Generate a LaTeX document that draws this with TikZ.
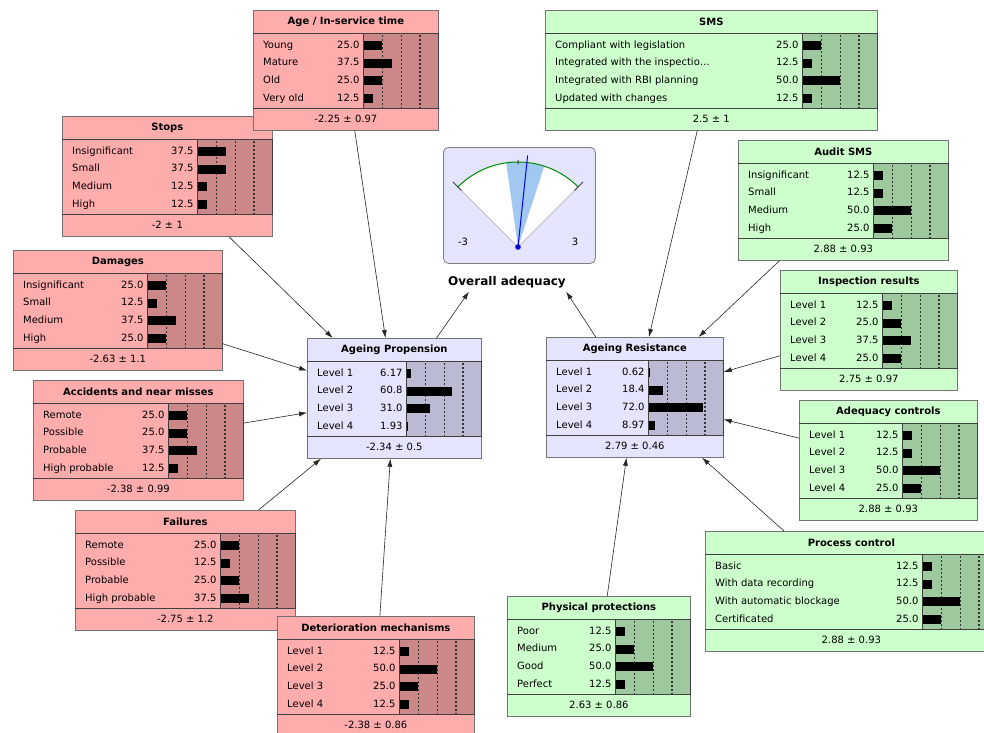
\documentclass[tikz,border=0pt]{standalone}
\usepackage{fontspec}
\setmainfont{DejaVu Sans}
\usetikzlibrary{arrows.meta,fit}

\definecolor{redmain}{RGB}{255,172,172}
\definecolor{redbar}{RGB}{204,136,136}
\definecolor{greenmain}{RGB}{204,255,204}
\definecolor{greenbar}{RGB}{158,200,158}
\definecolor{bluemain}{RGB}{228,228,252}
\definecolor{bluebar}{RGB}{186,186,210}
\definecolor{gaugeblue}{RGB}{160,200,240}

\tikzset{
  bnbox/.style={rectangle,draw=black!55,line width=0.7pt,inner sep=0pt,minimum height=120pt},
  bnline/.style={draw=black!75,line width=0.7pt},
  bndots/.style={draw=black!80,line width=1.2pt,dash pattern=on 1.5pt off 2.5pt},
  bntitle/.style={font=\bfseries,inner sep=1pt},
  bntext/.style={inner sep=1pt,text height=7.5pt,text depth=2pt},
  bnarrow/.style={-{Latex[length=8pt,width=5pt]},draw=black!85,line width=0.6pt},
  gaugebox/.style={rectangle,rounded corners=5pt,draw=black!50,line width=0.8pt,fill=bluemain,inner sep=0pt}
}

% #1 colour set, #2 name, #3 x, #4 y, #5 width, #6 title, #7 rows, #8 footer
\newcommand{\bnnode}[8]{%
  \node[bnbox,fill=#1main,minimum width=#5pt,anchor=north west] (#2) at (#3,#4) {};
  \draw[bnline] ([yshift=-23pt]#2.north west) -- ([yshift=-23pt]#2.north east);
  \draw[bnline] ([yshift=22pt]#2.south west) -- ([yshift=22pt]#2.south east);
  \draw[bnline,fill=#1bar] ([xshift=-75pt,yshift=-23pt]#2.north east) rectangle ([yshift=22pt]#2.south east);
  \foreach \f in {18.75,37.5,56.25}
    \draw[bndots] ([xshift={(\f-75)*1pt},yshift=-25pt]#2.north east) -- ([xshift={(\f-75)*1pt},yshift=23pt]#2.south east);
  \node[bntitle] (#2-t) at ([yshift=-11.5pt]#2.north) {#6};
  \node[bntext] (#2-f) at ([yshift=11pt]#2.south) {#8};
  \foreach \lab/\val [count=\i] in {#7} {
    \node[bntext,anchor=west] (#2-l\i) at ([xshift=9pt,yshift={-35.5pt-(\i-1)*17.6pt}]#2.north west) {\lab};
    \node[bntext,anchor=east] (#2-v\i) at ([xshift=-78pt,yshift={-35.5pt-(\i-1)*17.6pt}]#2.north east) {\val};
    \fill ([xshift=-75pt,yshift={-31pt-(\i-1)*17.6pt}]#2.north east) rectangle ++(\val*0.75,9);
  }
}

\begin{document}
\begin{tikzpicture}[x=1pt,y=-1pt]
  \useasboundingbox (0,0) rectangle (984,732);
  \fill[white] (0,0) rectangle (984,732);
  \clip (0,0) rectangle (984,732);

  % Propension side
  \bnnode{red}{stops}{62}{116}{210}{Stops}
    {Insignificant/37.5,Small/37.5,Medium/12.5,High/12.5}{-2 ± 1}
  \bnnode{red}{age}{253}{10}{185}{Age / In-service time}
    {Young/25.0,Mature/37.5,Old/25.0,Very old/12.5}{-2.25 ± 0.97}
  \bnnode{red}{damages}{13}{250}{209}{Damages}
    {Insignificant/25.0,Small/12.5,Medium/37.5,High/25.0}{-2.63 ± 1.1}
  \bnnode{red}{accidents}{33}{380}{210}{Accidents and near misses}
    {Remote/25.0,Possible/25.0,Probable/37.5,High probable/12.5}{-2.38 ± 0.99}
  \bnnode{red}{failures}{75}{510}{220}{Failures}
    {Remote/25.0,Possible/12.5,Probable/25.0,High probable/37.5}{-2.75 ± 1.2}
  \bnnode{red}{deterioration}{277}{616}{197}{Deterioration mechanisms}
    {Level 1/12.5,Level 2/50.0,Level 3/25.0,Level 4/12.5}{-2.38 ± 0.86}
  \bnnode{blue}{prop}{307}{338}{174}{Ageing Propension}
    {Level 1/6.17,Level 2/60.8,Level 3/31.0,Level 4/1.93}{-2.34 ± 0.5}

  % Resistance side
  \bnnode{green}{sms}{545}{10}{332}{SMS}
    {Compliant with legislation/25.0,Integrated with the inspectio\ldots/12.5,Integrated with RBI planning/50.0,Updated with changes/12.5}{2.5 ± 1}
  \bnnode{green}{audit}{738}{140}{210}{Audit SMS}
    {Insignificant/12.5,Small/12.5,Medium/50.0,High/25.0}{2.88 ± 0.93}
  \bnnode{green}{inspection}{780}{270}{177}{Inspection results}
    {Level 1/12.5,Level 2/25.0,Level 3/37.5,Level 4/25.0}{2.75 ± 0.97}
  \bnnode{green}{controls}{799}{400}{178}{Adequacy controls}
    {Level 1/12.5,Level 2/12.5,Level 3/50.0,Level 4/25.0}{2.88 ± 0.93}
  \bnnode{green}{process}{705}{531}{292}{Process control}
    {Basic/12.5,With data recording/12.5,With automatic blockage/50.0,Certificated/25.0}{2.88 ± 0.93}
  \bnnode{green}{physical}{507}{596}{183}{Physical protections}
    {Poor/12.5,Medium/25.0,Good/50.0,Perfect/12.5}{2.63 ± 0.86}
  \bnnode{blue}{res}{546}{337}{177}{Ageing Resistance}
    {Level 1/0.62,Level 2/18.4,Level 3/72.0,Level 4/8.97}{2.79 ± 0.46}

  % Gauge
  \node[gaugebox,minimum width=152pt,minimum height=116pt,anchor=north west] (gauge) at (443,147) {};
  \begin{scope}[shift={(518,247)},y=1pt]
    \fill[white] (0,0) -- (135:85) arc[start angle=135,end angle=45,radius=85] -- cycle;
    \fill[gaugeblue] (0,0) -- (98:85) arc[start angle=98,end angle=72,radius=85] -- cycle;
    \draw[black!25,line width=0.8pt] (135:85) -- (0,0) -- (45:85);
    \draw[green!55!black,line width=1pt] (135:85) arc[start angle=135,end angle=45,radius=85];
    \draw[black!75,line width=1pt] (135:80) -- (135:92) (45:80) -- (45:92) (90:83) -- (90:87);
    \draw[blue,line width=1pt] (0,0) -- (84:92);
    \fill[blue!85!black] (0,0) circle (2.8);
    \node (gauge-min) at (-55,5) {-3};
    \node (gauge-max) at (57,5) {3};
  \end{scope}
  \node[font=\bfseries\fontsize{12}{14}\selectfont] (adeq-label) at (507,282) {Overall adequacy};
  \node[fit=(gauge)(adeq-label),inner sep=0pt] (overall) {};

  % Arcs
  \foreach \src in {age,stops,damages,accidents,failures,deterioration}
    \draw[bnarrow] (\src) -- (prop);
  \foreach \src in {sms,audit,inspection,controls,process,physical}
    \draw[bnarrow] (\src) -- (res);
  \draw[bnarrow] (prop) -- (overall);
  \draw[bnarrow] (res) -- (overall);
\end{tikzpicture}
\end{document}
